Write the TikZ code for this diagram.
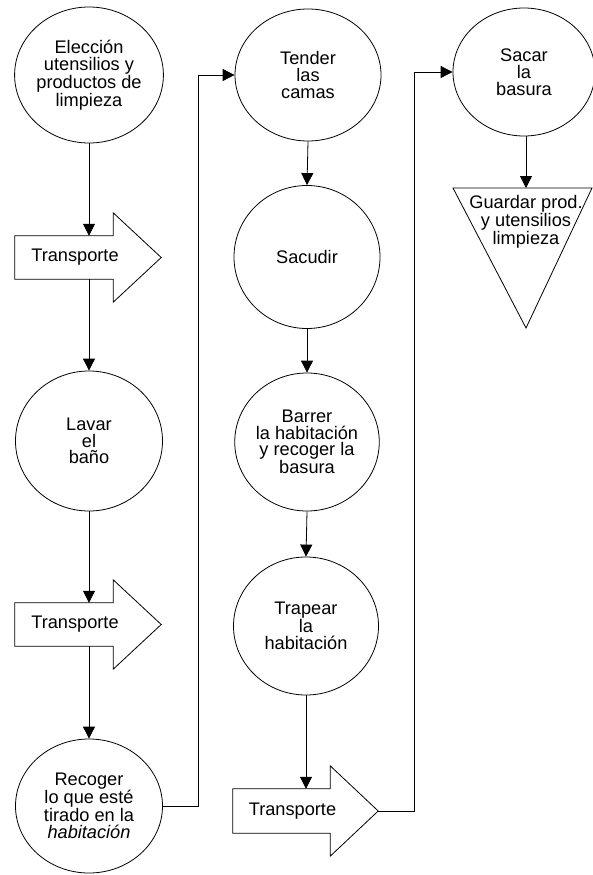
\documentclass[tikz,border=0pt]{standalone}
\usepackage{fontspec}
\setmainfont{Liberation Sans}
\usetikzlibrary{arrows.meta,shapes.geometric,calc}

% outline of a "Transporte" block arrow around a body node
\newcommand\transportshape[1]{%
  \draw[ln] (#1.north west) -- (#1.north east) -- ($(#1.north east)+(0,-23)$)
    -- ($(#1.east)+(48,0)$) -- ($(#1.south east)+(0,23)$)
    -- (#1.south east) -- (#1.south west) -- cycle;}

\begin{document}
\begin{tikzpicture}[x=1pt,y=-1pt,
  every node/.style={font=\fontsize{18.2}{16.8}\selectfont},
  op/.style={draw, ellipse, line width=0.8pt, align=center, inner sep=0pt},
  lbl/.style={align=center, inner sep=0pt},
  body/.style={minimum width=98pt, minimum height=43pt, inner sep=0pt},
  ln/.style={line width=0.8pt},
  arr/.style={line width=0.8pt, -{Triangle[length=12pt,width=12pt]}},
]
\useasboundingbox (0,0) rectangle (593,875);

% first column
\node[op, minimum width=146pt, minimum height=136pt] (c1) at (89,75)
  {Elección\\utensilios y\\productos de\\limpieza};
\node[body] (t1) at (64,257.5) {};
\transportshape{t1}
\node[lbl] (t1l) at ($(t1.center)+(11,0)$) {Transporte};
\node[op, minimum width=147pt, minimum height=140pt] (c2) at (89,441)
  {Lavar\\el\\baño};
\node[body] (t2) at (64,624.5) {};
\transportshape{t2}
\node[lbl] (t2l) at ($(t2.center)+(11,0)$) {Transporte};
\node[op, minimum width=147pt, minimum height=134pt] (c3) at (89,806)
  {Recoger\\lo que esté\\tirado en la\\\textit{habitación}};

% second column
\node[op, minimum width=146pt, minimum height=132pt] (c4) at (308,75)
  {Tender\\las\\camas};
\node[op, minimum width=146pt, minimum height=143pt] (c5) at (307,257)
  {Sacudir};
\node[op, minimum width=144pt, minimum height=138pt] (c6) at (307,442)
  {Barrer\\la habitación\\y recoger la\\basura};
\node[op, minimum width=145pt, minimum height=138pt] (c7) at (306,626)
  {Trapear\\la\\habitación};
\node[body, minimum width=97pt, minimum height=44pt] (t3) at (281.5,811) {};
\transportshape{t3}
\node[lbl] (t3l) at ($(t3.center)+(11,0)$) {Transporte};

% third column
\node[op, minimum width=142pt, minimum height=128pt] (c8) at (524,72)
  {Sacar\\la\\basura};
\coordinate (gl) at (453,188);
\coordinate (gr) at (592,188);
\coordinate (gb) at (526,328);
\coordinate (gtop) at (526,188);
\draw[ln] (gl) -- (gr) -- (gb) -- cycle;
\node[lbl] (g1) at (526,222) {Guardar prod.\\y utensilios\\limpieza};

% connectors
\coordinate (k1) at (198,0);
\coordinate (k2) at (414,0);
\draw[arr] (c1.south) -- (c1.south |- t1.north);
\draw[arr] (c2.north |- t1.south) -- (c2.north);
\draw[arr] (c2.south) -- (c2.south |- t2.north);
\draw[arr] (c3.north |- t2.south) -- (c3.north);
\draw[arr] (c3.east) -- (c3.east -| k1) -- (k1 |- c4.west) -- (c4.west);
\draw[arr] (c4.south) -- (c5.north);
\draw[arr] (c5.south) -- (c6.north);
\draw[arr] (c6.south) -- (c7.north);
\draw[arr] (c7.south) -- (c7.south |- t3.north);
\draw[arr] ($(t3.east)+(48,0)$) -- ($(t3.east -| k2)$) -- (k2 |- c8.west) -- (c8.west);
\draw[arr] (c8.south -| gtop) -- (gtop);
\end{tikzpicture}
\end{document}
